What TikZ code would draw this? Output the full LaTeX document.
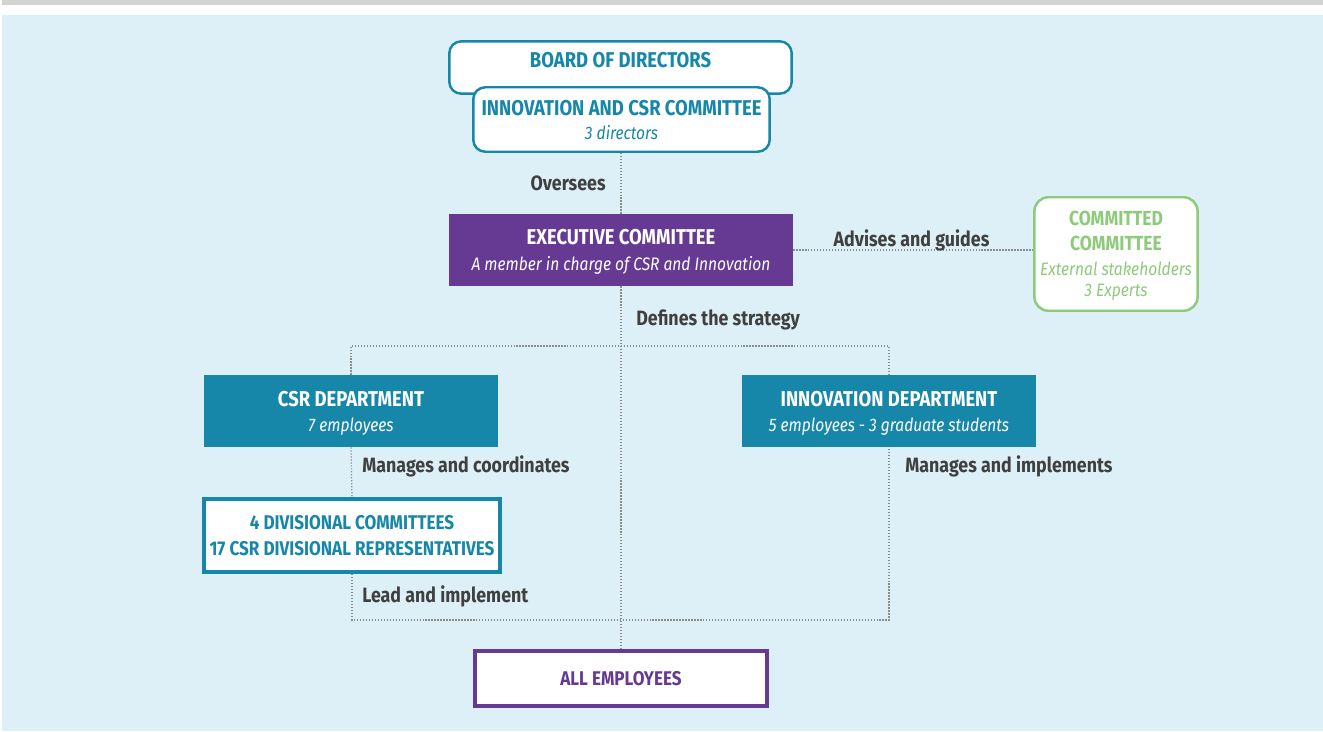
\documentclass[tikz,border=0pt]{standalone}
\usepackage{fontspec}
\setmainfont{Fira Sans}[FakeStretch=0.86]
\usetikzlibrary{positioning,backgrounds}
\definecolor{csrTeal}{HTML}{1787A9}
\definecolor{execPurple}{HTML}{663A93}
\definecolor{advGreen}{HTML}{8DCB7B}
\definecolor{paleSky}{HTML}{DDF0F7}
\definecolor{barGrey}{HTML}{D3D3D3}
\definecolor{labelInk}{HTML}{404040}
\definecolor{dotGrey}{HTML}{8C8C8C}
\newcommand{\subtxt}{\fontsize{10.3}{14}\selectfont\mdseries\itshape}

\begin{document}
\begin{tikzpicture}[
    x=0.02cm, y=-0.02cm,
    govbox/.style={draw=csrTeal, fill=white, line width=1.4pt, rounded corners=0.24cm, align=center, text=csrTeal, font=\fontsize{12.2}{13.7}\selectfont\bfseries},
    execbox/.style={fill=execPurple, minimum width=6.88cm, minimum height=1.44cm, text depth=0pt, align=center, text=white, font=\fontsize{12.2}{15.2}\selectfont\bfseries},
    advbox/.style={draw=advGreen, fill=white, line width=1.4pt, rounded corners=0.28cm, minimum width=3.15cm, minimum height=2.27cm, text depth=0pt, align=center, text=advGreen, font=\fontsize{11.6}{14.2}\selectfont\bfseries},
    deptbox/.style={fill=csrTeal, minimum width=5.88cm, minimum height=1.44cm, text depth=0pt, align=center, text=white, font=\fontsize{12.2}{14.2}\selectfont\bfseries},
    divbox/.style={draw=csrTeal, fill=white, line width=2.3pt, minimum width=5.84cm, minimum height=1.46cm, text depth=0pt, align=center, text=csrTeal, font=\fontsize{11.3}{14.8}\selectfont\bfseries},
    staffbox/.style={draw=execPurple, fill=white, line width=2pt, minimum width=5.85cm, minimum height=1.11cm, align=center, text=execPurple, font=\fontsize{11.3}{14}\selectfont\bfseries},
    lbl/.style={inner sep=0pt, text=labelInk, font=\fontsize{11.8}{13}\selectfont\bfseries},
    link/.style={draw=dotGrey, densely dotted, line width=0.7pt}
  ]
    \useasboundingbox (0,0) rectangle (1323,731);

    % Governance
    \node[govbox, minimum width=6.85cm, inner ysep=0pt, text height=14.9pt, text depth=14.9pt] (board) at (620.5,67.5) {BOARD OF DIRECTORS};
    \node[govbox, minimum width=5.93cm, minimum height=1.29cm, text depth=0pt] (ctee) at (621.5,119.5) {INNOVATION AND CSR COMMITTEE\\{\subtxt 3 directors}};

    % Executive row
    \node[execbox] (exec) at (621,250) {EXECUTIVE COMMITTEE\\{\subtxt A member in charge of CSR and Innovation}};
    \node[advbox] (adv) at (1116,254) {COMMITTED\\COMMITTEE\\[0pt]{\subtxt External stakeholders}\\[-2pt]{\subtxt 3 Experts}};

    % Departments
    \node[deptbox] (csr) at (351,411) {CSR DEPARTMENT\\{\subtxt 7 employees}};
    \node[deptbox] (inno) at (889,411) {INNOVATION DEPARTMENT\\{\subtxt 5 employees - 3 graduate students}};
    \node[divbox] (divis) at (352,535.5) {4 DIVISIONAL COMMITTEES\\17 CSR DIVISIONAL REPRESENTATIVES};
    \node[staffbox] (staff) at (621,678.5) {ALL EMPLOYEES};

    % Labels
    \node[lbl, anchor=base east] (oversees) at (606,190) {Oversees};
    \node[lbl, anchor=base] (advises) at (911.5,246) {Advises and guides};
    \node[lbl, anchor=base west] (defines) at (636,325) {Defines the strategy};
    \node[lbl, anchor=base west] (coord) at (362,472) {Manages and coordinates};
    \node[lbl, anchor=base west] (lead) at (362,602) {Lead and implement};
    \node[lbl, anchor=base west] (impl) at (905,472) {Manages and implements};

    \coordinate (splitTop) at (621,346);
    \coordinate (splitBot) at (621,620);

    \begin{pgfonlayer}{background}
      \fill[barGrey] (2,0) rectangle (1323,5);
      \fill[paleSky] (2,15) rectangle (1323,731);
      % Links
      \draw[link] (exec.north) -- (exec.north |- ctee.south);
      \draw[link] (exec.east) -- (exec.east -| adv.west);
      \draw[link] (exec.south) -- (staff.north);
      \draw[link] (csr.north) |- (splitTop) -| (inno.north);
      \draw[link] (csr.south) -- (divis.north);
      \draw[link] (divis.south) |- (splitBot) -| (inno.south);
    \end{pgfonlayer}
  \end{tikzpicture}
\end{document}
